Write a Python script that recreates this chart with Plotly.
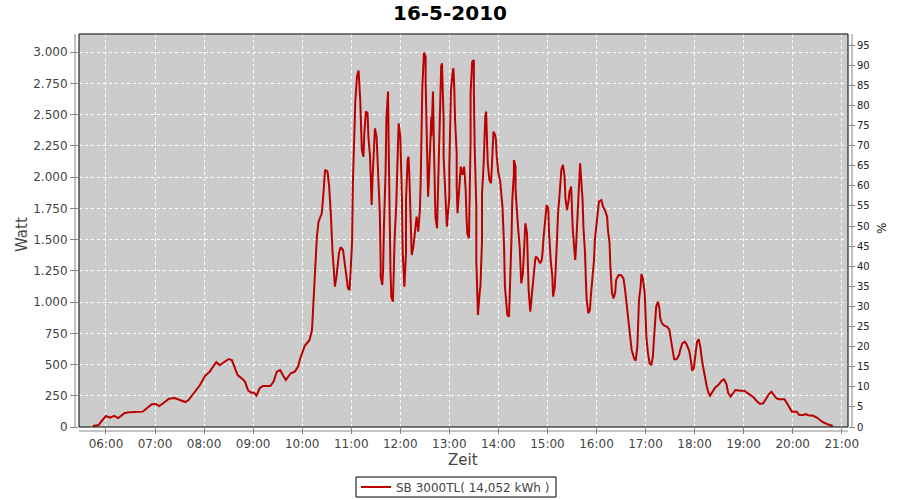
import plotly.graph_objects as go

DATE = "2010-05-16"
TITLE = "16-5-2010"
SERIES_NAME = "SB 3000TL( 14,052 kWh )"

times = [
    "05:44", "05:51", "05:55", "06:00", "06:05", "06:10", "06:15", "06:19", "06:23", "06:29",
    "06:45", "06:50", "06:56", "07:01", "07:05", "07:10", "07:17", "07:24", "07:30", "07:37",
    "07:41", "07:47", "07:55", "08:01", "08:07", "08:11", "08:15", "08:19", "08:24", "08:30",
    "08:34", "08:37", "08:41", "08:47", "08:50", "08:54", "08:58", "09:01", "09:04", "09:08",
    "09:12", "09:21", "09:25", "09:29", "09:33", "09:37", "09:40", "09:46", "09:51", "09:55",
    "09:57", "10:03", "10:09", "10:12", "10:13", "10:14", "10:16", "10:18", "10:20", "10:24",
    "10:26", "10:28", "10:31", "10:33", "10:35", "10:36", "10:37", "10:39", "10:40", "10:42",
    "10:45", "10:47", "10:50", "10:52", "10:54", "10:56", "10:58", "10:59", "11:01", "11:02",
    "11:04", "11:05", "11:07", "11:09", "11:11", "11:12", "11:13", "11:15", "11:16", "11:18",
    "11:20", "11:21", "11:23", "11:24", "11:25", "11:26", "11:28", "11:29", "11:31", "11:32",
    "11:34", "11:35", "11:36", "11:36", "11:38", "11:39", "11:40", "11:42", "11:43", "11:44",
    "11:45", "11:46", "11:47", "11:48", "11:49", "11:51", "11:52", "11:53", "11:55", "11:56",
    "11:57", "11:58", "12:00", "12:01", "12:02", "12:03", "12:04", "12:05", "12:07", "12:07",
    "12:09", "12:10", "12:11", "12:12", "12:13", "12:14", "12:16", "12:18", "12:20", "12:22",
    "12:24", "12:25", "12:26", "12:27", "12:29", "12:31", "12:31", "12:32", "12:33", "12:34",
    "12:35", "12:36", "12:37", "12:38", "12:38", "12:40", "12:41", "12:42", "12:43", "12:45",
    "12:46", "12:47", "12:48", "12:49", "12:50", "12:51", "12:52", "12:53", "12:53", "12:55",
    "12:56", "12:57", "12:58", "13:00", "13:00", "13:01", "13:02", "13:04", "13:05", "13:06",
    "13:07", "13:09", "13:09", "13:10", "13:11", "13:13", "13:14", "13:16", "13:18", "13:19",
    "13:20", "13:21", "13:22", "13:24", "13:25", "13:26", "13:26", "13:28", "13:30", "13:30",
    "13:31", "13:33", "13:33", "13:35", "13:35", "13:37", "13:38", "13:40", "13:40", "13:42",
    "13:43", "13:44", "13:45", "13:46", "13:47", "13:49", "13:51", "13:52", "13:53", "13:54",
    "13:56", "13:57", "13:58", "14:00", "14:02", "14:03", "14:05", "14:06", "14:07", "14:08",
    "14:10", "14:11", "14:13", "14:14", "14:15", "14:16", "14:17", "14:19", "14:19", "14:21",
    "14:21", "14:23", "14:24", "14:26", "14:27", "14:28", "14:30", "14:32", "14:33", "14:35",
    "14:36", "14:37", "14:39", "14:40", "14:41", "14:43", "14:45", "14:46", "14:48", "14:50",
    "14:51", "14:53", "14:54", "14:55", "14:57", "14:59", "15:01", "15:02", "15:04", "15:06",
    "15:07", "15:09", "15:11", "15:13", "15:15", "15:16", "15:17", "15:19", "15:21", "15:22",
    "15:24", "15:26", "15:27", "15:29", "15:30", "15:31", "15:33", "15:34", "15:35", "15:36",
    "15:37", "15:39", "15:40", "15:41", "15:43", "15:44", "15:46", "15:47", "15:48", "15:50",
    "15:52", "15:53", "15:55", "15:57", "15:58", "16:00", "16:02", "16:03", "16:06", "16:08",
    "16:11", "16:13", "16:14", "16:16", "16:17", "16:19", "16:21", "16:23", "16:24", "16:27",
    "16:30", "16:33", "16:35", "16:37", "16:39", "16:41", "16:43", "16:46", "16:48", "16:50",
    "16:51", "16:52", "16:54", "16:55", "16:57", "16:59", "17:00", "17:01", "17:03", "17:05",
    "17:07", "17:09", "17:10", "17:12", "17:13", "17:15", "17:17", "17:18", "17:20", "17:23",
    "17:26", "17:29", "17:31", "17:33", "17:35", "17:38", "17:41", "17:43", "17:45", "17:48",
    "17:50", "17:53", "17:54", "17:56", "17:57", "17:59", "18:01", "18:03", "18:05", "18:07",
    "18:09", "18:11", "18:13", "18:15", "18:17", "18:19", "18:22", "18:25", "18:29", "18:33",
    "18:36", "18:39", "18:41", "18:44", "18:47", "18:50", "18:56", "19:01", "19:04", "19:08",
    "19:12", "19:16", "19:20", "19:24", "19:28", "19:31", "19:34", "19:37", "19:40", "19:43",
    "19:50", "19:53", "19:56", "19:59", "20:05", "20:08", "20:13", "20:16", "20:19", "20:25",
    "20:29", "20:33", "20:37", "20:42", "20:46", "20:49",
]

watts = [
    8, 16, 50, 88, 75, 90, 72, 96, 112, 118,
    123, 150, 182, 184, 168, 190, 227, 232, 216, 200,
    216, 270, 336, 408, 443, 483, 520, 494, 518, 544,
    536, 483, 416, 384, 363, 291, 275, 275, 251, 310,
    328, 328, 363, 443, 456, 408, 376, 430, 443, 483,
    536, 648, 697, 776, 923, 1030, 1283, 1523, 1643, 1711,
    1871, 2058, 2044, 1924, 1711, 1551, 1417, 1231, 1123, 1204,
    1391, 1439, 1417, 1311, 1204, 1111, 1097, 1231, 1471, 1951,
    2431, 2605, 2805, 2853, 2618, 2458, 2218, 2164, 2352, 2525,
    2512, 2325, 2164, 1978, 1777, 1978, 2298, 2391, 2325, 2164,
    1951, 1711, 1311, 1204, 1137, 1257, 1604, 2031, 2458, 2658,
    2685, 2164, 1577, 1257, 1043, 1003, 1231, 1497, 1764, 2058,
    2378, 2431, 2325, 2111, 1844, 1391, 1177, 1123, 1391, 1817,
    2138, 2164, 2031, 1817, 1497, 1377, 1443, 1560, 1684, 1564,
    1737, 1978, 2404, 2725, 2997, 2965, 2765, 2458, 2111, 1844,
    1978, 2191, 2404, 2484, 2325, 2685, 2298, 1898, 1684, 1591,
    1817, 2111, 2431, 2712, 2885, 2912, 2698, 2458, 2164, 1924,
    1737, 1604, 1684, 1844, 2084, 2431, 2698, 2832, 2872, 2725,
    2458, 2191, 1924, 1711, 1791, 1978, 2084, 2018, 2084, 2004,
    1898, 1684, 1551, 1511, 1844, 2298, 2672, 2925, 2938, 2698,
    2244, 1764, 1337, 990, 897, 1070, 1123, 1497, 1871, 2111,
    2325, 2484, 2525, 2298, 2111, 1978, 1951, 2084, 2191, 2365,
    2338, 2298, 2164, 2031, 1978, 1898, 1764, 1604, 1443, 1123,
    977, 897, 883, 1043, 1257, 1497, 1817, 2031, 2138, 2084,
    1898, 1631, 1604, 1443, 1257, 1150, 1231, 1443, 1631, 1551,
    1283, 1097, 923, 990, 1070, 1231, 1337, 1364, 1351, 1324,
    1311, 1337, 1391, 1497, 1657, 1777, 1751, 1551, 1337, 1204,
    1043, 1123, 1391, 1711, 1871, 1978, 2058, 2098, 2004, 1831,
    1737, 1817, 1884, 1924, 1764, 1577, 1417, 1337, 1443, 1604,
    1791, 1978, 2111, 2031, 1817, 1604, 1391, 1177, 1017, 910,
    937, 1043, 1177, 1337, 1497, 1631, 1751, 1804, 1817, 1764,
    1724, 1684, 1577, 1471, 1283, 1070, 1030, 1083, 1177, 1215,
    1217, 1190, 1097, 963, 857, 723, 617, 550, 531, 643,
    857, 1017, 1123, 1225, 1177, 1070, 910, 723, 590, 510,
    496, 563, 670, 830, 963, 1003, 950, 870, 830, 811,
    803, 782, 710, 617, 542, 542, 576, 630, 670, 683,
    664, 617, 590, 510, 451, 470, 563, 683, 702, 643,
    536, 443, 390, 323, 275, 251, 283, 315, 336, 371,
    382, 344, 275, 243, 270, 296, 291, 291, 275, 256,
    238, 208, 184, 190, 230, 264, 283, 256, 230, 222,
    222, 190, 150, 123, 123, 96, 96, 104, 94, 90,
    78, 56, 38, 24, 16, 8,
]

watt_ticks = [0, 250, 500, 750, 1000, 1250, 1500, 1750, 2000, 2250, 2500, 2750, 3000]
pct_ticks = list(range(0, 100, 5))
hour_ticks = ["06:00", "07:00", "08:00", "09:00", "10:00", "11:00", "12:00", "13:00",
              "14:00", "15:00", "16:00", "17:00", "18:00", "19:00", "20:00", "21:00"]

x = [f"{DATE} {t}" for t in times]
FONT = "DejaVu Sans"

fig = go.Figure()
fig.add_trace(go.Scatter(
    x=x, y=watts, mode="lines", name=SERIES_NAME,
    line=dict(color="#BB0000", width=2),
))
fig.add_trace(go.Scatter(x=[x[0]], y=[None], yaxis="y2", showlegend=False,
                         mode="lines", hoverinfo="skip"))

fig.update_layout(
    width=900, height=500,
    margin=dict(l=79, r=52, t=34, b=73, autoexpand=False),
    paper_bgcolor="white",
    plot_bgcolor="#CCCCCC",
    separators=",.",
    font=dict(family=FONT, size=12, color="#444444"),
    title=dict(text=f"<b>{TITLE}</b>", x=0.5, xref="container", xanchor="center",
               y=1 - 13 / 500, yref="container", yanchor="middle",
               font=dict(family=FONT, size=20, color="black")),
    showlegend=True,
    legend=dict(orientation="h", x=356 / 900, xanchor="left", xref="container",
                y=1 - 487 / 500, yanchor="middle", yref="container",
                bgcolor="rgba(0,0,0,0)", borderwidth=0,
                font=dict(family=FONT, size=12, color="#444444"),
                itemwidth=30, tracegroupgap=0),
    xaxis=dict(
        type="date", automargin=False,
        range=[f"{DATE} 05:27:00", f"{DATE} 21:07:40"],
        tickmode="array",
        tickvals=[f"{DATE} {h}" for h in hour_ticks],
        ticktext=hour_ticks,
        showgrid=True, gridcolor="white", griddash="dot", gridwidth=1,
        ticks="outside", ticklen=6, tickcolor="#888888",
        showline=False, zeroline=False,
        tickfont=dict(family=FONT, size=12, color="#444444"),
    ),
    yaxis=dict(
        range=[0, 3146], automargin=False,
        tickmode="array", tickvals=watt_ticks, tickformat=",d",
        showgrid=True, gridcolor="white", griddash="dot", gridwidth=1,
        ticks="outside", ticklen=8, tickcolor="#888888",
        showline=False, zeroline=False,
        tickfont=dict(family=FONT, size=12, color="#444444"),
    ),
    yaxis2=dict(
        overlaying="y", side="right", anchor="x", automargin=False,
        range=[0, 97.8],
        tickmode="array", tickvals=pct_ticks,
        showgrid=False, zeroline=False, showline=False,
        ticks="outside", ticklen=6, tickcolor="#888888",
        tickfont=dict(family=FONT, size=10, color="#222222"),
    ),
    shapes=[
        dict(type="rect", xref="paper", yref="paper", x0=0, x1=1, y0=0, y1=1,
             line=dict(color="black", width=1), layer="above"),
        dict(type="line", xref="paper", yref="paper", x0=-4 / 769, x1=-4 / 769, y0=0, y1=1,
             line=dict(color="#888888", width=1)),
        dict(type="line", xref="paper", yref="paper", x0=1 + 4 / 769, x1=1 + 4 / 769, y0=0, y1=1,
             line=dict(color="#888888", width=1)),
        dict(type="line", xref="paper", yref="paper", x0=0, x1=1, y0=-4 / 393, y1=-4 / 393,
             line=dict(color="#888888", width=1)),
        # legend frame
        dict(type="rect", xref="paper", yref="paper",
             x0=(356 - 79) / 769, x1=(556 - 79) / 769,
             y0=(427 - 497) / 393, y1=(427 - 477) / 393,
             line=dict(color="black", width=1), fillcolor="white", layer="below"),
    ],
    annotations=[
        dict(text="Watt", xref="paper", yref="paper", x=(22 - 79) / 769, y=(427 - 235) / 393,
             textangle=-90, showarrow=False, xanchor="center", yanchor="middle",
             font=dict(family=FONT, size=15, color="#444444")),
        dict(text="Zeit", xref="paper", yref="paper", x=(463 - 79) / 769, y=(427 - 460) / 393,
             showarrow=False, xanchor="center", yanchor="middle",
             font=dict(family=FONT, size=15, color="#444444")),
        dict(text="%", xref="paper", yref="paper", x=(882 - 79) / 769, y=(427 - 228) / 393,
             textangle=-90, showarrow=False, xanchor="center", yanchor="middle",
             font=dict(family=FONT, size=12, color="#222222")),
    ],
)

fig.write_html("out.html", config={"displayModeBar": False},
               post_script="document.body.style.margin='0';document.body.style.overflow='hidden';")
